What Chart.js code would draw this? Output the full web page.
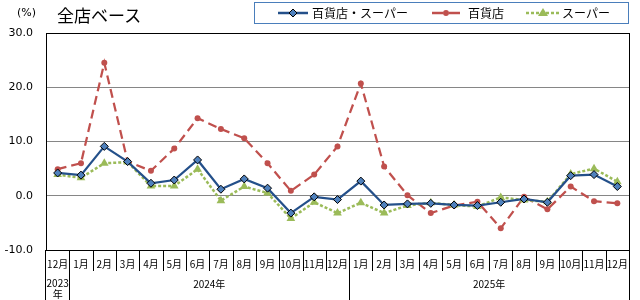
<!DOCTYPE html>
<html><head><meta charset="utf-8">
<script src="https://cdn.jsdelivr.net/npm/chart.js@4/dist/chart.umd.min.js"></script>
<style>
html,body{margin:0;padding:0;background:#fff;}
#wrap{position:relative;width:640px;height:300px;overflow:hidden;font-family:'Noto Sans CJK JP',sans-serif;background:#fff;}
#c{position:absolute;left:0;top:0;}
.t{position:absolute;white-space:nowrap;color:#000;}
#title{left:57px;top:3px;height:24px;line-height:24px;font-size:17px;}
#unit{left:17px;top:4px;height:18px;line-height:18px;font-size:11px;font-family:'DejaVu Sans',sans-serif;}
#legend{position:absolute;left:254px;top:2px;width:373px;height:20px;border:1px solid #4A7EBB;}
#legend svg{position:absolute;top:0;}
#legend .lt{position:absolute;top:0;height:20px;line-height:20px;font-size:12px;white-space:nowrap;}
</style></head>
<body>
<div id="wrap">
<canvas id="c" width="640" height="300"></canvas>
<div class="t" id="unit">(%)</div>
<div class="t" id="title">全店ベース</div>
<div id="legend">
  <svg style="left:23px" width="30" height="20"><line x1="0" y1="10" x2="30" y2="10" stroke="#24508A" stroke-width="2.5"/><polygon points="15,6 19,10 15,14 11,10" fill="#4F81BD" stroke="#000" stroke-width="1"/></svg>
  <div class="lt" id="lg0" style="left:57px"></div>
  <svg style="left:177px" width="28" height="20"><line x1="0" y1="10" x2="11" y2="10" stroke="#C0504D" stroke-width="2.5"/><line x1="17" y1="10" x2="28" y2="10" stroke="#C0504D" stroke-width="2.5"/><circle cx="14" cy="10" r="3" fill="#C0504D"/></svg>
  <div class="lt" id="lg1" style="left:213px"></div>
  <svg style="left:271px" width="34" height="20"><line x1="0" y1="10" x2="34" y2="10" stroke="#9BBB59" stroke-width="2.5" stroke-dasharray="3,2"/><polygon points="17,5 22,13 12,13" fill="#9BBB59"/></svg>
  <div class="lt" id="lg2" style="left:307px"></div>
</div>
</div>
<script>
const seriesNames = ['百貨店・スーパー', '百貨店', 'スーパー'];
const categories = ['12月','1月','2月','3月','4月','5月','6月','7月','8月','9月','10月','11月','12月',
                    '1月','2月','3月','4月','5月','6月','7月','8月','9月','10月','11月','12月'];
const yearNames = ['2023年', '2024年', '2025年'];
const yearSpans = [1, 12, 12];
const totalValues = [4.2, 3.8, 9.1, 6.3, 2.3, 2.9, 6.6, 1.2, 3.1, 1.4, -3.2, -0.2, -0.7,
                     2.7, -1.7, -1.5, -1.4, -1.7, -1.8, -1.2, -0.6, -1.2, 3.7, 3.9, 1.7];
const deptValues = [4.9, 6.0, 24.5, 6.3, 4.6, 8.7, 14.3, 12.3, 10.6, 6.0, 0.9, 3.9, 9.1,
                    20.7, 5.4, 0.1, -3.2, -1.8, -1.1, -6.0, -0.2, -2.5, 1.7, -1.0, -1.4];
const superValues = [3.9, 3.3, 6.0, 6.2, 1.8, 1.8, 4.9, -0.9, 1.7, 0.5, -4.2, -1.2, -3.2,
                     -1.3, -3.2, -1.8, -1.3, -1.7, -2.0, -0.3, -0.8, -1.1, 4.0, 5.0, 2.6];
const yTicks = [-10, 0, 10, 20, 30];

document.getElementById('lg0').textContent = seriesNames[0];
document.getElementById('lg1').textContent = seriesNames[1];
document.getElementById('lg2').textContent = seriesNames[2];

const frame = {
  id: 'frame',
  afterDraw(chart) {
    const ctx = chart.ctx, ca = chart.chartArea, xs = chart.scales.x;
    const bottom = chart.height;
    ctx.save();
    ctx.strokeStyle = '#000';
    ctx.lineWidth = 1;
    ctx.beginPath();
    // right border
    ctx.moveTo(Math.round(ca.right) + 0.5, ca.top);
    ctx.lineTo(Math.round(ca.right) + 0.5, bottom);
    // left extension
    ctx.moveTo(Math.round(ca.left) - 0.5, ca.bottom);
    ctx.lineTo(Math.round(ca.left) - 0.5, bottom);
    // separators
    const yearBounds = [];
    let acc = 0;
    for (let k = 0; k < yearSpans.length - 1; k++) { acc += yearSpans[k]; yearBounds.push(acc - 1); }
    for (let i = 0; i < categories.length - 1; i++) {
      const x = Math.round((xs.getPixelForValue(i) + xs.getPixelForValue(i + 1)) / 2) + 0.5;
      const isYear = yearBounds.includes(i);
      ctx.moveTo(x, ca.bottom);
      ctx.lineTo(x, isYear ? bottom : ca.bottom + 21);
    }
    ctx.stroke();
    // year labels
    ctx.fillStyle = '#000';
    ctx.font = "10px 'Noto Sans CJK JP'";
    ctx.textAlign = 'center';
    ctx.textBaseline = 'middle';
    let start = 0;
    for (let k = 0; k < yearNames.length; k++) {
      const end = start + yearSpans[k] - 1;
      const half = (xs.getPixelForValue(1) - xs.getPixelForValue(0)) / 2;
      const x0 = xs.getPixelForValue(start) - half, x1 = xs.getPixelForValue(end) + half;
      const cx = (x0 + x1) / 2;
      const name = yearNames[k];
      if (ctx.measureText(name).width > (x1 - x0) - 2) {
        ctx.fillText(name.slice(0, -1), cx, ca.bottom + 33);
        ctx.fillText(name.slice(-1), cx, ca.bottom + 44);
      } else {
        ctx.fillText(name, cx, ca.bottom + 34);
      }
      start = end + 1;
    }
    ctx.restore();
  }
};

new Chart(document.getElementById('c'), {
  type: 'line',
  data: {
    labels: categories,
    datasets: [
      { label: seriesNames[0], data: totalValues, order: 0,
        borderColor: '#24508A', borderWidth: 2.25, pointStyle: 'rectRot', pointRadius: 4,
        pointBackgroundColor: '#4F81BD', pointBorderColor: '#000', pointBorderWidth: 1, tension: 0 },
      { label: seriesNames[1], data: deptValues, order: 2,
        borderColor: '#C0504D', borderWidth: 2.25, borderDash: [9, 5], pointStyle: 'circle', pointRadius: 3,
        pointBackgroundColor: '#C0504D', pointBorderColor: '#C0504D', pointBorderWidth: 0, tension: 0 },
      { label: seriesNames[2], data: superValues, order: 1,
        borderColor: '#9BBB59', borderWidth: 2.5, borderDash: [3, 2], pointStyle: 'triangle', pointRadius: 5,
        pointBackgroundColor: '#9BBB59', pointBorderColor: '#9BBB59', pointBorderWidth: 0, tension: 0 }
    ]
  },
  options: {
    responsive: false,
    animation: false,
    events: [],
    layout: { padding: { top: 33, right: 11, left: 0, bottom: 0 } },
    plugins: { legend: { display: false }, title: { display: false }, tooltip: { enabled: false } },
    scales: {
      x: {
        offset: true,
        grid: { display: false, drawTicks: false },
        border: { display: true, color: '#000', width: 1 },
        ticks: { color: '#000', font: { family: "'Noto Sans CJK JP'", size: 10 }, padding: 8, maxRotation: 0, autoSkip: false },
        afterFit(s) { s.height = 50; }
      },
      y: {
        min: yTicks[0], max: yTicks[yTicks.length - 1],
        afterBuildTicks(s) { s.ticks = yTicks.map(v => ({ value: v })); },
        grid: { drawTicks: false, color: c => (c.tick && c.tick.value === yTicks[yTicks.length - 1]) ? '#000' : '#868686', lineWidth: 1 },
        border: { display: true, color: '#000', width: 1 },
        ticks: { color: '#000', font: { family: "'DejaVu Sans'", size: 11 }, padding: 13, callback: v => Number(v).toFixed(1) },
        afterFit(s) { s.width = 46; }
      }
    }
  },
  plugins: [frame]
});
</script>
</body></html>
